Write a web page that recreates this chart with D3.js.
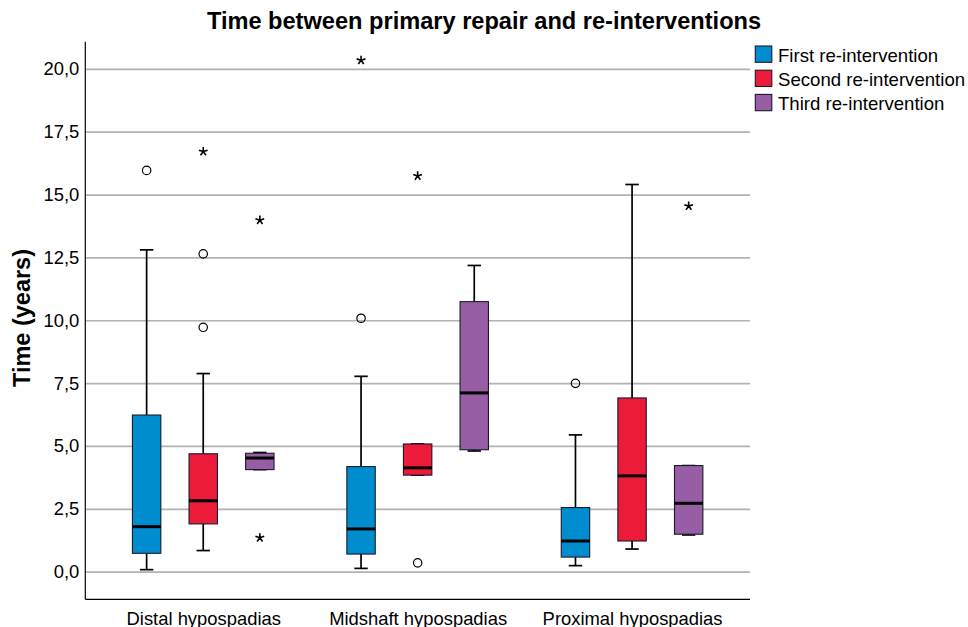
<!DOCTYPE html>
<html>
<head>
<meta charset="utf-8">
<script src="https://cdn.jsdelivr.net/npm/d3@7/dist/d3.min.js"></script>
<style>
  body { margin: 0; background: #fff; }
  svg { display: block; font-family: "Liberation Sans", Arial, sans-serif; }
</style>
</head>
<body>
<svg id="chart" width="968" height="627"></svg>
<script>
// ---- Data ----
const categories = ["Distal hypospadias", "Midshaft hypospadias", "Proximal hypospadias"];
const seriesNames = ["First re-intervention", "Second re-intervention", "Third re-intervention"];
const seriesColors = ["#008dd0", "#ed1b3a", "#975da5"];
const yTicks = [0, 2.5, 5, 7.5, 10, 12.5, 15, 17.5, 20];

// [lower whisker, Q1, median, Q3, upper whisker] per category
const firstStats  = [[0.08, 0.73, 1.79, 6.23, 12.80], [0.13, 0.70, 1.70, 4.18, 7.77], [0.24, 0.58, 1.22, 2.55, 5.44]];
const secondStats = [[0.84, 1.90, 2.82, 4.69, 7.88],  [3.84, 3.84, 4.13, 5.08, 5.08], [0.90, 1.22, 3.81, 6.91, 15.40]];
const thirdStats  = [[4.06, 4.06, 4.52, 4.71, 4.74],  [4.80, 4.85, 7.11, 10.74, 12.18], [1.46, 1.49, 2.72, 4.22, 4.22]];

// outliers (circles) and extremes (stars) per category
const firstOutliers  = [[15.96], [10.08], [7.49]];
const secondOutliers = [[12.64, 9.72], [0.35], []];
const thirdOutliers  = [[], [], []];
const firstExtremes  = [[], [20.34], []];
const secondExtremes = [[16.71], [15.74], []];
const thirdExtremes  = [[13.98, 1.35], [], [14.54]];

const statsBySeries = [firstStats, secondStats, thirdStats];
const outliersBySeries = [firstOutliers, secondOutliers, thirdOutliers];
const extremesBySeries = [firstExtremes, secondExtremes, thirdExtremes];

// ---- Layout ----
const svg = d3.select("#chart");
const mLeft = 85.3, mRight = 750, mTop = 41.7, mBottom = 599.3;
const fontSize = 18.4;

const y = d3.scaleLinear().domain([-1.099, 21.08]).range([mBottom, mTop]);
const x = d3.scalePoint().domain(categories).range([mLeft, mRight]).padding(0.55);
const offset = d3.scalePoint().domain(seriesNames).range([-56.6, 56.6]);
const boxW = 28.4, capW = 13.4;

const locale = d3.formatLocale({decimal: ",", thousands: ".", grouping: [3], currency: ["", ""]});
const fmt = locale.format(".1f");

// gridlines
svg.append("g")
  .attr("transform", `translate(${mLeft},0)`)
  .call(d3.axisLeft(y).tickValues(yTicks).tickSize(-(mRight - mLeft)).tickFormat(""))
  .call(g => g.select(".domain").remove())
  .call(g => g.selectAll("line").attr("stroke", "#b2b2b2").attr("stroke-width", 1.7));

// y axis labels
svg.append("g")
  .attr("transform", `translate(${mLeft},0)`)
  .call(d3.axisLeft(y).tickValues(yTicks).tickSize(0).tickPadding(6).tickFormat(fmt))
  .call(g => g.select(".domain").remove())
  .call(g => g.selectAll("text").attr("font-size", fontSize).attr("fill", "#000")
      .attr("font-family", "'Liberation Sans', Arial, sans-serif"));

// axis lines
svg.append("line").attr("x1", mLeft).attr("x2", mLeft).attr("y1", mTop).attr("y2", mBottom)
  .attr("stroke", "#000").attr("stroke-width", 1.2);

// x axis
svg.append("g")
  .attr("transform", `translate(0,${mBottom})`)
  .call(d3.axisBottom(x).tickSize(0).tickPadding(12.5))
  .call(g => g.select(".domain").attr("d", `M${mLeft},0H${mRight}`).attr("stroke", "#000").attr("stroke-width", 1.2))
  .call(g => g.selectAll("text").attr("font-size", fontSize).attr("fill", "#000")
      .attr("font-family", "'Liberation Sans', Arial, sans-serif"));

// boxes
const plot = svg.append("g");
seriesNames.forEach((s, si) => {
  categories.forEach((c, ci) => {
    const [lo, q1, med, q3, hi] = statsBySeries[si][ci];
    const cx = x(c) + offset(s);
    const g = plot.append("g");
    // whiskers
    g.append("line").attr("x1", cx).attr("x2", cx).attr("y1", y(hi)).attr("y2", y(q3))
      .attr("stroke", "#000").attr("stroke-width", 1.7);
    g.append("line").attr("x1", cx).attr("x2", cx).attr("y1", y(q1)).attr("y2", y(lo))
      .attr("stroke", "#000").attr("stroke-width", 1.7);
    g.append("line").attr("x1", cx - capW / 2).attr("x2", cx + capW / 2).attr("y1", y(hi)).attr("y2", y(hi))
      .attr("stroke", "#000").attr("stroke-width", 1.7);
    g.append("line").attr("x1", cx - capW / 2).attr("x2", cx + capW / 2).attr("y1", y(lo)).attr("y2", y(lo))
      .attr("stroke", "#000").attr("stroke-width", 1.7);
    // box
    g.append("rect").attr("x", cx - boxW / 2).attr("width", boxW)
      .attr("y", y(q3)).attr("height", y(q1) - y(q3))
      .attr("fill", seriesColors[si]).attr("stroke", "#1a1a2a").attr("stroke-width", 1.1);
    // median
    g.append("line").attr("x1", cx - boxW / 2).attr("x2", cx + boxW / 2).attr("y1", y(med)).attr("y2", y(med))
      .attr("stroke", "#000").attr("stroke-width", 3);
    // outliers
    outliersBySeries[si][ci].forEach(v => {
      g.append("circle").attr("cx", cx).attr("cy", y(v)).attr("r", 4.2)
        .attr("fill", "none").attr("stroke", "#000").attr("stroke-width", 1.2);
    });
    // extremes (asterisk)
    extremesBySeries[si][ci].forEach(v => {
      const r = 4.6;
      let d = "";
      for (let k = 0; k < 5; k++) {
        const a = -Math.PI / 2 + k * 2 * Math.PI / 5;
        d += `M${cx},${y(v)}L${cx + r * Math.cos(a)},${y(v) + r * Math.sin(a)}`;
      }
      g.append("path").attr("d", d).attr("stroke", "#000").attr("stroke-width", 1.6)
        .attr("stroke-linecap", "butt").attr("fill", "none");
    });
  });
});

// title
svg.append("text").attr("x", 484).attr("y", 29).attr("text-anchor", "middle")
  .attr("font-size", 23.6).attr("font-weight", "bold").attr("fill", "#000")
  .text("Time between primary repair and re-interventions");

// y label
svg.append("text").attr("transform", "translate(30,318) rotate(-90)").attr("text-anchor", "middle")
  .attr("font-size", 23.5).attr("font-weight", "bold").attr("fill", "#000")
  .text("Time (years)");

// legend
const legend = svg.append("g");
seriesNames.forEach((s, i) => {
  const ly = 46 + i * 24.2;
  legend.append("rect").attr("x", 755.3).attr("y", ly).attr("width", 16.5).attr("height", 16.3)
    .attr("fill", seriesColors[i]).attr("stroke", "#1a1a2a").attr("stroke-width", 1.1);
  legend.append("text").attr("x", 778).attr("y", ly + 15.6).attr("font-size", 18.6).attr("fill", "#000")
    .text(s);
});
</script>
</body>
</html>
